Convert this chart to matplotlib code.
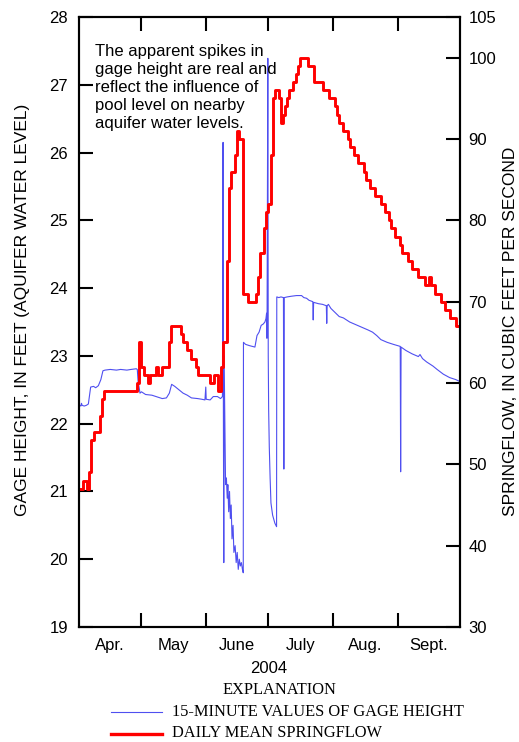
import numpy as np
import pandas as pd
import matplotlib
matplotlib.use('Agg')
import matplotlib.pyplot as plt
from matplotlib.lines import Line2D

plt.rcParams['font.family'] = ['Liberation Sans', 'DejaVu Sans']

# daily mean springflow (cfs), as runs of equal values starting 2004-04-01
flow_vals = [47, 48, 47, 49, 53, 54, 56, 58, 59, 60, 65, 62, 61, 60, 61, 62, 61, 62,
             65, 67, 66, 65, 64, 63, 62, 61, 60, 61, 59, 62, 65, 75, 84, 86, 88, 91,
             90, 71, 70, 71, 73, 76, 79, 81, 82, 88, 95, 96, 95, 92, 93, 94, 95, 96,
             97, 98, 99, 100, 99, 97, 96, 95, 94, 93, 92, 91, 90, 89, 88, 87, 86, 85,
             84, 83, 82, 81, 80, 79, 78, 77, 76, 75, 74, 73, 72, 73, 72, 71, 70, 69,
             68, 67]
flow_runs = [2, 2, 1, 1, 1, 3, 1, 1, 16, 1, 1, 1, 2, 1, 3, 1, 2, 3,
             1, 5, 1, 2, 2, 2, 1, 6, 2, 2, 1, 1, 2, 1, 1, 2, 1, 1,
             2, 2, 4, 1, 1, 2, 1, 1, 1, 1, 1, 2, 1, 1, 1, 1, 1, 2,
             1, 1, 1, 4, 3, 4, 3, 3, 1, 1, 2, 2, 1, 2, 2, 3, 1, 2,
             2, 3, 2, 2, 1, 2, 2, 1, 3, 2, 3, 3, 2, 1, 2, 3, 2, 2,
             3, 3]

# gage height (ft), key points read from the 15-minute record, days after 2004-04-01
gage_day = [0.4, 0.9, 1.2, 1.5, 2.5, 3.5, 4.5, 5.2, 5.6, 7.0, 8.0, 9.3, 10.5, 11.5,
            12.5, 15, 18, 20, 23, 25, 27.5, 28.0, 28.4, 28.8, 29.3, 30, 32, 35, 38,
            40, 42, 43.4, 44.5, 46, 48, 50, 52, 54, 57, 59, 60.5, 60.9, 61.1, 63,
            64.5, 66.5, 68, 68.9, 69.2, 69.35, 69.55, 69.7, 70.1, 70.4, 70.8, 71.2,
            71.5, 71.9, 72.3, 72.7, 73.1, 73.5, 74.0, 74.4, 75.0, 75.5, 76.0, 76.5,
            77.0, 77.5, 78.0, 78.5, 78.9, 79.0, 80, 82, 84.5, 85.5, 86.5, 87.5, 88.5,
            89.3, 89.8, 90.1, 90.25, 90.35, 90.7, 90.9, 91.1, 91.4, 91.8, 92.2, 93,
            94.1, 94.9, 95.0, 96, 97, 98.2, 98.4, 98.6, 100, 102, 104.5, 106.9, 108,
            109.3, 110.5, 112.3, 112.5, 112.7, 115, 117, 118.8, 119.0, 119.2, 119.8,
            121, 123, 125, 127, 130, 133, 136, 139, 141, 143, 145, 148, 151, 154.3,
            154.5, 154.7, 157, 160, 163, 163.8, 165, 167, 170, 172, 175, 178, 181, 183]
gage_ht = [22.27, 22.26, 22.30, 22.27, 22.26, 22.27, 22.29, 22.45, 22.54, 22.55, 22.53,
           22.56, 22.65, 22.78, 22.79, 22.80, 22.79, 22.80, 22.79, 22.80, 22.81, 22.80,
           22.62, 22.55, 22.45, 22.47, 22.43, 22.42, 22.39, 22.37, 22.38, 22.45, 22.58,
           22.55, 22.50, 22.45, 22.42, 22.38, 22.37, 22.36, 22.35, 22.54, 22.36, 22.35,
           22.40, 22.40, 22.37, 22.40, 26.15, 22.3, 19.95, 23.0, 21.9, 21.1, 21.2, 20.9,
           21.1, 20.7, 21.0, 20.6, 20.8, 20.3, 20.5, 20.1, 20.2, 19.95, 20.1, 19.85,
           20.0, 19.9, 19.95, 19.85, 19.8, 23.2, 23.17, 23.15, 23.13, 23.3, 23.35,
           23.45, 23.47, 23.5, 23.55, 23.63, 23.26, 23.62, 27.39, 23.0, 22.2, 21.66,
           21.2, 20.83, 20.65, 20.53, 20.48, 23.87, 23.86, 23.87, 23.86, 21.33, 23.86,
           23.87, 23.88, 23.89, 23.89, 23.86, 23.85, 23.82, 23.80, 23.53, 23.79, 23.77,
           23.76, 23.74, 23.48, 23.74, 23.76, 23.70, 23.64, 23.58, 23.56, 23.50, 23.46,
           23.42, 23.38, 23.35, 23.30, 23.24, 23.20, 23.17, 23.14, 21.29, 23.13, 23.08,
           23.03, 22.99, 23.02, 22.96, 22.91, 22.85, 22.80, 22.73, 22.68, 22.65, 22.62]

months = ['Apr.', 'May', 'June', 'July', 'Aug.', 'Sept.']

start = pd.Timestamp('2004-04-01')
flow = np.repeat(flow_vals, flow_runs)
flow_dates = start + pd.to_timedelta(np.arange(len(flow)), unit='D')
# repeat last value so the final step reaches the end of the record
flow_dates = flow_dates.append(pd.DatetimeIndex([flow_dates[-1] + pd.Timedelta(days=1)]))
flow = np.append(flow, flow[-1])
gage_dates = start + pd.to_timedelta(gage_day, unit='D')

month_edges = pd.date_range('2004-04-01', '2004-10-01', freq='MS')
month_mids = month_edges[:-1] + (month_edges[1:] - month_edges[:-1]) / 2

fig = plt.figure(figsize=(5.19, 7.42), dpi=100)
ax = fig.add_axes([0.1522, 0.155, 0.7341, 0.8221])
ax2 = ax.twinx()

ax.plot(gage_dates, gage_ht, color='#4f4ff0', lw=0.8)
ax2.plot(flow_dates, flow, color='#ff0000', lw=2.1, drawstyle='steps-post')

ax.set_xlim(month_edges[0], month_edges[-1])
ax.set_ylim(19, 28)
ax2.set_ylim(30, 105)

ax.set_xticks(month_edges[1:-1])
ax.set_xticklabels([])
ax.set_xticks(month_mids, minor=True)
ax.set_xticklabels(months, minor=True)
ax.set_yticks(range(19, 29))
ax2.set_yticks([30, 40, 50, 60, 70, 80, 90, 100, 105])

fs = 12
ax.tick_params(axis='x', which='major', direction='in', length=10, width=1.5,
               top=True, bottom=True)
ax.tick_params(axis='x', which='minor', length=0, pad=8, labelsize=fs)
ax.tick_params(axis='y', direction='in', length=10, width=1.5, labelsize=fs, pad=8)
ax2.tick_params(axis='y', direction='in', length=10, width=1.5, labelsize=fs, pad=6)
for a in (ax, ax2):
    for s in a.spines.values():
        s.set_linewidth(1.5)

fig.text(0.0424, 0.583, 'GAGE HEIGHT, IN FEET (AQUIFER WATER LEVEL)', rotation=90,
         ha='center', va='center', fontsize=12.5)
fig.text(0.9827, 0.553, 'SPRINGFLOW, IN CUBIC FEET PER SECOND', rotation=90,
         ha='center', va='center', fontsize=12.5)

ax.text(0.042, 0.955, 'The apparent spikes in\ngage height are real and\n'
        'reflect the influence of\npool level on nearby\naquifer water levels.',
        transform=ax.transAxes, va='top', ha='left', fontsize=12, linespacing=1.25)

fig.text(0.5183, 0.0997, '2004', ha='center', va='center', fontsize=fs)

serif = ['Liberation Serif', 'DejaVu Serif']
fig.text(0.5376, 0.0701, 'EXPLANATION', ha='center', va='center', fontsize=11.8, family=serif)
fig.add_artist(Line2D([0.2139, 0.3116], [0.0404, 0.0404], color='#4f4ff0', lw=0.8))
fig.add_artist(Line2D([0.2139, 0.3116], [0.0108, 0.0108], color='#ff0000', lw=2.4))
fig.text(0.3308, 0.0353, '15-MINUTE VALUES OF GAGE HEIGHT', va='baseline', fontsize=11.8, family=serif)
fig.text(0.3308, 0.0062, 'DAILY MEAN SPRINGFLOW', va='baseline', fontsize=11.8, family=serif)

fig.savefig('out.png', dpi=100)
